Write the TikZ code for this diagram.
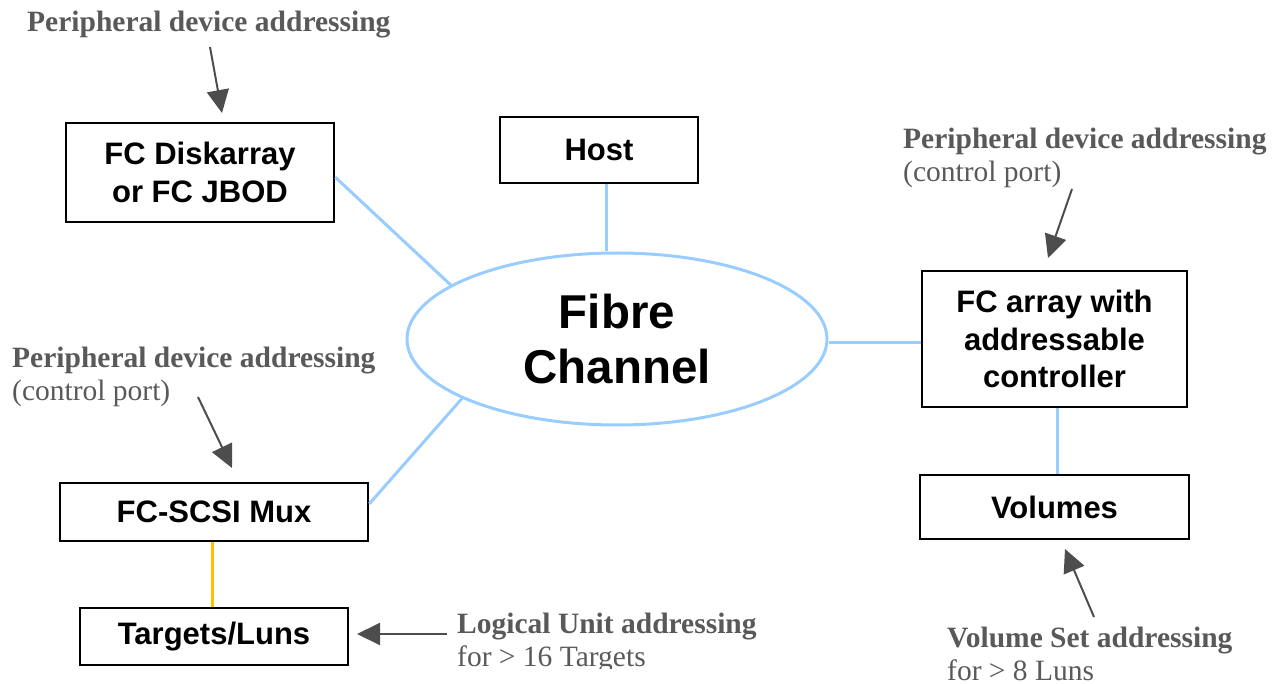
\documentclass[tikz,border=0pt]{standalone}
\usepackage{fontspec}
\setmainfont{Liberation Serif}
\setsansfont{Liberation Sans}
\usetikzlibrary{arrows.meta,shapes.geometric}
\definecolor{fcblue}{HTML}{99CCFF}
\definecolor{fcyellow}{HTML}{FFC000}
\definecolor{notegray}{HTML}{595959}
\definecolor{arrgray}{HTML}{4D4D4D}
\tikzset{
  box/.style={draw=black, line width=2.6pt, inner sep=0pt, align=center,
    font=\fontsize{31}{37.5}\selectfont\sffamily\bfseries},
  link/.style={draw=fcblue, line width=3pt},
  note/.style={inner sep=0pt, anchor=base west, align=left, text=notegray,
    font=\fontsize{29.5}{33}\selectfont\rmfamily},
  pointer/.style={draw=arrgray, line width=2pt, -{Triangle[length=23pt,width=22pt]}}
}
\begin{document}
\begin{tikzpicture}[x=1pt,y=-1pt]
\useasboundingbox (0,0) rectangle (1277,684);
% boxes
\node[box, minimum width=268pt, minimum height=99pt] (disk) at (200,172.5) {FC Diskarray\\or FC JBOD};
\node[box, minimum width=198pt, minimum height=66pt] (host) at (599,150) {Host};
\node[draw=fcblue, line width=3pt, ellipse, minimum width=420pt, minimum height=172pt, inner sep=0pt, align=center,
  font=\fontsize{47.5}{55}\selectfont\sffamily\bfseries] (fc) at (617,339) {Fibre\\Channel};
\node[box, minimum width=265pt, minimum height=136pt] (arr) at (1054.5,339) {FC array with\\addressable\\controller};
\node[box, minimum width=269pt, minimum height=64pt] (vol) at (1054.5,507) {Volumes};
\node[box, minimum width=308pt, minimum height=58pt] (mux) at (214,512) {FC-SCSI Mux};
\node[box, minimum width=268pt, minimum height=57pt] (tgt) at (214,636.5) {Targets/Luns};
% links
\draw[link] (disk.-2.3) -- (fc.162);
\draw[link] ([xshift=7pt]host.south) -- ([xshift=7pt]host.south |- fc.north);
\draw[link] ([yshift=-4pt]fc.east) -- ([yshift=-4pt]fc.east -| arr.west);
\draw[link] (fc.201.6) -- (mux.3.3);
\draw[link] ([xshift=2.5pt]arr.south) -- ([xshift=2.5pt]vol.north);
\draw[draw=fcyellow, line width=3pt] ([xshift=-1.5pt]mux.south) -- ([xshift=-1.5pt]mux.south |- tgt.north);
% notes
\node[note] (n1) at (27,32) {\textbf{Peripheral device addressing}};
\node[note] (n2) at (903,182) {\textbf{Peripheral device addressing}\\(control port)};
\node[note] (n3) at (12,401) {\textbf{Peripheral device addressing}\\(control port)};
\begin{scope}
\clip (440,560) rectangle (800,668);
\node[note] (n4) at (457,666) {\textbf{Logical Unit addressing}\\for > 16 Targets};
\end{scope}
\node[note] (n5) at (947,680) {\textbf{Volume Set addressing}\\for > 8 Luns};
% pointers
\coordinate (p1s) at (210,47);   \coordinate (p1e) at (222,113);
\coordinate (p2s) at (1072,189); \coordinate (p2e) at (1048,258);
\coordinate (p3s) at (198,397);  \coordinate (p3e) at (232,468);
\coordinate (p4s) at (447,634);  \coordinate (p4e) at (357,634);
\coordinate (p5s) at (1094,617); \coordinate (p5e) at (1065,549);
\draw[pointer] (p1s) -- (p1e);
\draw[pointer] (p2s) -- (p2e);
\draw[pointer] (p3s) -- (p3e);
\draw[pointer] (p4s) -- (p4e);
\draw[pointer] (p5s) -- (p5e);
\end{tikzpicture}
\end{document}
